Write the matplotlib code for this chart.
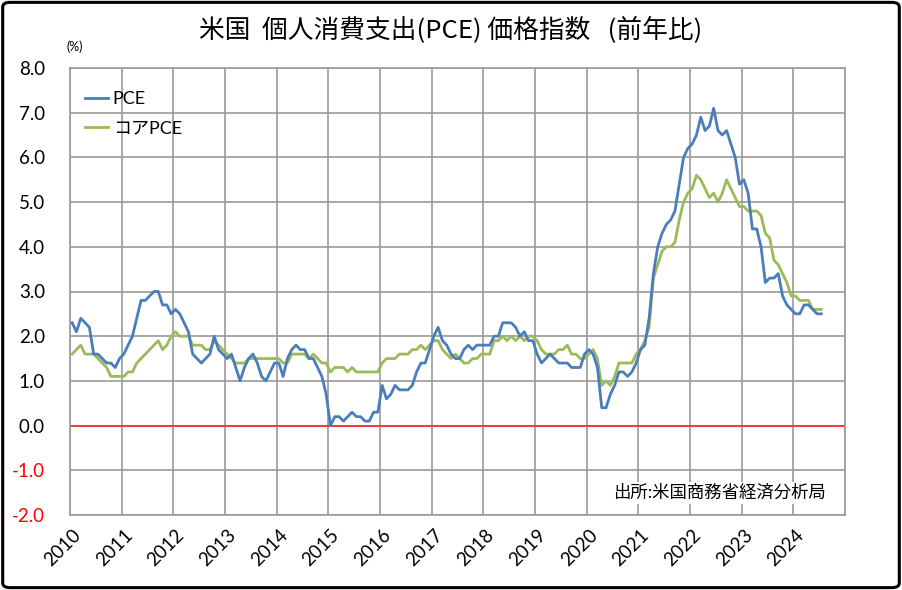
import numpy as np
import matplotlib.pyplot as plt
import matplotlib.transforms as mtransforms
from matplotlib.patches import FancyBboxPatch

# PCE price index, year-over-year % (monthly, Jan 2010 - Jul 2024)
pce = [
    2.3, 2.1, 2.4, 2.3, 2.2, 1.6, 1.6, 1.5, 1.4, 1.4, 1.3, 1.5,  # 2010
    1.6, 1.8, 2.0, 2.4, 2.8, 2.8, 2.9, 3.0, 3.0, 2.7, 2.7, 2.5,  # 2011
    2.6, 2.5, 2.3, 2.1, 1.6, 1.5, 1.4, 1.5, 1.6, 2.0, 1.7, 1.6,  # 2012
    1.5, 1.6, 1.3, 1.0, 1.3, 1.5, 1.6, 1.4, 1.1, 1.0, 1.2, 1.4,  # 2013
    1.4, 1.1, 1.5, 1.7, 1.8, 1.7, 1.7, 1.5, 1.5, 1.3, 1.1, 0.7,  # 2014
    0.0, 0.2, 0.2, 0.1, 0.2, 0.3, 0.2, 0.2, 0.1, 0.1, 0.3, 0.3,  # 2015
    0.9, 0.6, 0.7, 0.9, 0.8, 0.8, 0.8, 0.9, 1.2, 1.4, 1.4, 1.7,  # 2016
    2.0, 2.2, 1.9, 1.8, 1.6, 1.5, 1.5, 1.7, 1.8, 1.7, 1.8, 1.8,  # 2017
    1.8, 1.8, 2.0, 2.0, 2.3, 2.3, 2.3, 2.2, 2.0, 2.1, 1.9, 1.9,  # 2018
    1.6, 1.4, 1.5, 1.6, 1.5, 1.4, 1.4, 1.4, 1.3, 1.3, 1.3, 1.6,  # 2019
    1.7, 1.6, 1.3, 0.4, 0.4, 0.7, 0.9, 1.2, 1.2, 1.1, 1.2, 1.4,  # 2020
    1.7, 1.8, 2.4, 3.4, 4.0, 4.3, 4.5, 4.6, 4.8, 5.4, 6.0, 6.2,  # 2021
    6.3, 6.5, 6.9, 6.6, 6.7, 7.1, 6.6, 6.5, 6.6, 6.3, 6.0, 5.4,  # 2022
    5.5, 5.2, 4.4, 4.4, 4.0, 3.2, 3.3, 3.3, 3.4, 2.9, 2.7, 2.6,  # 2023
    2.5, 2.5, 2.7, 2.7, 2.6, 2.5, 2.5,                           # 2024
]

# Core PCE (excluding food and energy), year-over-year %
core_pce = [
    1.6, 1.7, 1.8, 1.6, 1.6, 1.6, 1.5, 1.4, 1.3, 1.1, 1.1, 1.1,  # 2010
    1.1, 1.2, 1.2, 1.4, 1.5, 1.6, 1.7, 1.8, 1.9, 1.7, 1.8, 2.0,  # 2011
    2.1, 2.0, 2.0, 2.0, 1.8, 1.8, 1.8, 1.7, 1.7, 1.9, 1.8, 1.7,  # 2012
    1.6, 1.5, 1.4, 1.4, 1.4, 1.5, 1.5, 1.5, 1.5, 1.5, 1.5, 1.5,  # 2013
    1.5, 1.4, 1.4, 1.6, 1.6, 1.6, 1.6, 1.5, 1.6, 1.5, 1.4, 1.4,  # 2014
    1.2, 1.3, 1.3, 1.3, 1.2, 1.3, 1.2, 1.2, 1.2, 1.2, 1.2, 1.2,  # 2015
    1.4, 1.5, 1.5, 1.5, 1.6, 1.6, 1.6, 1.7, 1.7, 1.8, 1.7, 1.8,  # 2016
    1.9, 1.9, 1.7, 1.6, 1.5, 1.6, 1.5, 1.4, 1.4, 1.5, 1.5, 1.6,  # 2017
    1.6, 1.6, 1.9, 1.9, 2.0, 1.9, 2.0, 1.9, 2.0, 1.9, 2.0, 2.0,  # 2018
    1.9, 1.7, 1.6, 1.6, 1.6, 1.7, 1.7, 1.8, 1.6, 1.6, 1.5, 1.5,  # 2019
    1.6, 1.7, 1.5, 0.9, 1.0, 0.9, 1.1, 1.4, 1.4, 1.4, 1.4, 1.6,  # 2020
    1.7, 1.9, 2.2, 3.3, 3.6, 3.9, 4.0, 4.0, 4.1, 4.6, 5.0, 5.2,  # 2021
    5.3, 5.6, 5.5, 5.3, 5.1, 5.2, 5.0, 5.2, 5.5, 5.3, 5.1, 4.9,  # 2022
    4.9, 4.8, 4.8, 4.8, 4.7, 4.3, 4.2, 3.7, 3.6, 3.4, 3.2, 2.9,  # 2023
    2.9, 2.8, 2.8, 2.8, 2.6, 2.6, 2.6,                           # 2024
]

years = list(range(2010, 2026))
year_labels = [str(y) for y in years[:-1]] + ['']
y_ticks = np.arange(-2, 8.01, 1.0)

plt.rcParams['font.family'] = ['Lato', 'Noto Sans CJK JP', 'DejaVu Sans']

# monthly points sit in the middle of each month
x = 2010 + (np.arange(len(pce)) + 0.5) / 12

fig = plt.figure(figsize=(9.02, 5.90), dpi=100)
W, H = 902, 590
ax = fig.add_axes([70 / W, 1 - 515 / H, 775 / W, 447 / H])

ax.plot(x, pce, color='#4a7ebb', lw=2.0, label='PCE', zorder=4)
ax.plot(x, core_pce, color='#9bbb59', lw=2.0, label='コアPCE', zorder=3)
ax.axhline(0, color='#f03c3c', lw=1.4, zorder=2)

ax.set_xlim(2010, 2025)
ax.set_ylim(-2, 8)
ax.set_xticks(years)
ax.set_xticklabels(year_labels, fontsize=13.5)
ax.set_yticks(y_ticks)
ax.set_yticklabels([f'{v:.1f}' for v in y_ticks], fontsize=13.5)
for lbl, v in zip(ax.get_yticklabels(), y_ticks):
    if v < 0:
        lbl.set_color('red')

ax.grid(True, color='#9a9a9a', lw=1.2)
ax.set_axisbelow(True)
for sp in ax.spines.values():
    sp.set_color('#9a9a9a')
    sp.set_linewidth(1.2)
ax.tick_params(length=0)
ax.tick_params(axis='y', pad=18)
ax.tick_params(axis='x', pad=8)

offset = mtransforms.ScaledTranslation(2 / 100, 0, fig.dpi_scale_trans)
for lbl in ax.get_xticklabels():
    lbl.set_rotation(45)
    lbl.set_ha('right')
    lbl.set_va('top')
    lbl.set_rotation_mode('anchor')
    lbl.set_transform(lbl.get_transform() + offset)

ax.legend(loc='upper left', bbox_to_anchor=(-0.002, 0.985), frameon=False,
          fontsize=13, handlelength=1.3, handletextpad=0.25, labelspacing=0.75)

ax.text(0.976, 0.05, '出所:米国商務省経済分析局', transform=ax.transAxes,
        ha='right', va='center', fontsize=12.5,
        bbox=dict(facecolor='white', edgecolor='none', pad=2))

fig.text(0.5, 1 - 30 / H, '米国  個人消費支出(PCE) 価格指数   (前年比)',
         ha='center', va='center', fontsize=18.5,
         family=['Noto Sans CJK JP', 'DejaVu Sans'])
fig.text(75 / W, 1 - 47 / H, '(%)', ha='center', va='center', fontsize=9)

border = FancyBboxPatch((0.003, 0.004), 0.994, 0.992,
                        boxstyle='round,pad=0,rounding_size=0.008',
                        transform=fig.transFigure, fill=False,
                        lw=2.2, ec='black')
fig.patches.append(border)

fig.savefig('out.png', dpi=100)
